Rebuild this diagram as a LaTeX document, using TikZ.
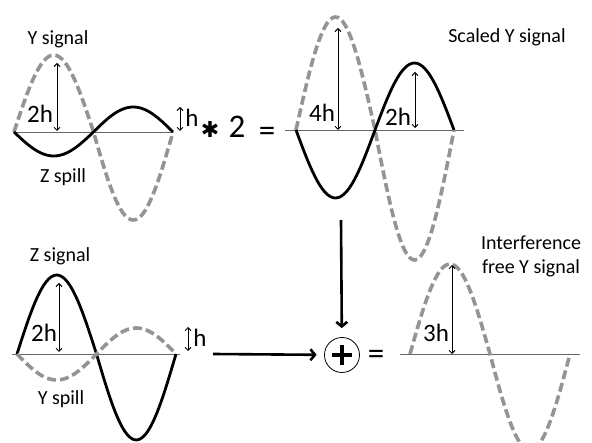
\documentclass[tikz,border=0pt]{standalone}
\usepackage{fontspec}
\setmainfont{Carlito}
\newfontfamily\symfont{DejaVu Sans}
\usetikzlibrary{arrows.meta, positioning, calc}

\begin{document}
\begin{tikzpicture}[
    x=1pt, y=-1pt,
    every node/.style={inner sep=0pt},
    lab/.style={anchor=base, font=\fontsize{20}{24}\selectfont},
    hlab/.style={anchor=base, font=\fontsize{25}{30}\selectfont},
    opsym/.style={font=\fontsize{33}{40}\selectfont},
    axis/.style={line width=0.8pt, draw=black!60},
    ysig/.style={line width=3.6pt, draw=black!42, dash pattern=on 9pt off 4pt},
    zsig/.style={line width=2.8pt, draw=black},
    dim/.style={{Straight Barb[length=3pt,width=6pt]}-{Straight Barb[length=3pt,width=6pt]}, line width=0.9pt},
    flow/.style={-{Straight Barb[length=4.5pt,width=11pt]}, line width=2.6pt}
]
\useasboundingbox (0,0) rectangle (592,443);

% top left: Y signal with Z spill
\coordinate (tlA) at (13,132);
\coordinate (tlB) at (173,132);
\draw[axis] (tlA) -- (tlB);
\draw[ysig] plot[smooth, domain=0:360, samples=61] ({14+\x/360*159}, {132-((\x<180)*77+(\x>=180)*88)*sin(\x)});
\draw[zsig] plot[smooth, domain=0:360, samples=61] ({14+\x/360*159}, {132+((\x<180)*24+(\x>=180)*25)*sin(\x)});
\node[lab] (ysigtl) at (58,45) {Y signal};
\node[lab] (zspilltl) at (63,183) {Z spill};
\coordinate (tlpeakT) at (57,63);
\coordinate (tlpeakB) at (57,131);
\draw[dim] (tlpeakT) -- (tlpeakB);
\node[hlab] (tltwoh) at (40,123) {2h};
\coordinate (tlspT) at (180,107);
\coordinate (tlspB) at (180,131);
\draw[dim] (tlspT) -- (tlspB);
\node[hlab] (tlh) at (192,127) {h};

% times two
\node[font=\symfont\fontsize{22}{26}\selectfont] (times) at (210,129) {✱};
\node[opsym, anchor=base] (two) at (237,138) {2};
\node[opsym] (eqtop) at (267,134) {=};

% top right: scaled Y signal
\coordinate (trA) at (285,130);
\coordinate (trB) at (464,130);
\draw[axis] (trA) -- (trB);
\draw[ysig] plot[smooth, domain=0:360, samples=61] ({296+\x/360*158}, {130-((\x<180)*113+(\x>=180)*130)*sin(\x)});
\draw[zsig] plot[smooth, domain=0:360, samples=61] ({296+\x/360*158}, {130+((\x<180)*68+(\x>=180)*67)*sin(\x)});
\node[lab] (scaled) at (507,43) {Scaled Y signal};
\coordinate (trpeakT) at (338,28);
\coordinate (trpeakB) at (338,130);
\draw[dim] (trpeakT) -- (trpeakB);
\node[hlab] (trfourh) at (322,122) {4h};
\coordinate (trspT) at (415,72);
\coordinate (trspB) at (415,128);
\draw[dim] (trspT) -- (trspB);
\node[hlab] (trtwoh) at (398,126) {2h};

% bottom left: Z signal with Y spill
\coordinate (blA) at (12,354);
\coordinate (blB) at (180,354);
\draw[axis] (blA) -- (blB);
\draw[zsig] plot[smooth, domain=0:360, samples=61] ({17+\x/360*159}, {354-((\x<180)*79+(\x>=180)*86)*sin(\x)});
\draw[ysig] plot[smooth, domain=0:360, samples=61] ({17+\x/360*159}, {354+26*sin(\x)});
\node[lab] (zsigbl) at (60,262) {Z signal};
\node[lab] (yspillbl) at (61,405) {Y spill};
\coordinate (blpeakT) at (59,283);
\coordinate (blpeakB) at (59,352);
\draw[dim] (blpeakT) -- (blpeakB);
\node[hlab] (bltwoh) at (44,342) {2h};
\coordinate (blspT) at (188,327);
\coordinate (blspB) at (188,351);
\draw[dim] (blspT) -- (blspB);
\node[hlab] (blh) at (200,347) {h};

% summation
\node[circle, draw, line width=0.8pt, minimum size=35pt] (sum) at (342,355) {};
\draw[line width=3.6pt] ([xshift=-10pt]sum.center) -- ([xshift=10pt]sum.center);
\draw[line width=3.6pt] ([yshift=-10pt]sum.center) -- ([yshift=10pt]sum.center);
\node[opsym] (eqbot) at (376,357) {=};
\coordinate (fromtop) at (341,220);
\coordinate (fromleft) at (213,354);
\draw[flow, shorten >=9pt] (fromtop) -- (sum);
\draw[flow, shorten >=7.5pt] (fromleft) -- (sum);

% bottom right: interference free Y signal
\coordinate (brA) at (400,354);
\coordinate (brB) at (580,354);
\draw[axis] (brA) -- (brB);
\draw[ysig] plot[smooth, domain=0:360, samples=61] ({410+\x/360*160}, {354-((\x<180)*90+(\x>=180)*96)*sin(\x)});
\node[font=\fontsize{20}{24}\selectfont, align=center] (clean) at (531,256) {Interference\\free Y signal};
\coordinate (brpeakT) at (452,265);
\coordinate (brpeakB) at (452,354);
\draw[dim] (brpeakT) -- (brpeakB);
\node[hlab] (brthreeh) at (436,342) {3h};
\end{tikzpicture}
\end{document}
